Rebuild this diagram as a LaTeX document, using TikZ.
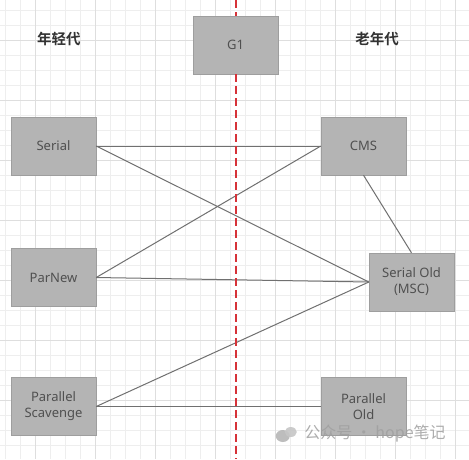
\documentclass[tikz,border=0pt]{standalone}
\usepackage{fontspec}
\setmainfont{Noto Sans}
\newfontfamily\cjk{Noto Sans CJK SC}[BoldFont={Noto Sans CJK SC Bold}]
\usetikzlibrary{positioning}

\definecolor{boxgray}{RGB}{180,180,180}
\definecolor{boxtext}{RGB}{80,80,80}
\definecolor{linkgray}{RGB}{112,112,112}
\definecolor{gridminor}{RGB}{238,238,238}
\definecolor{gridmajor}{RGB}{222,222,222}
\definecolor{divred}{RGB}{214,50,56}

\begin{document}
\begin{tikzpicture}[x=1pt,y=-1pt,
  gc/.style={draw=boxgray!88!black,fill=boxgray,minimum width=85pt,minimum height=58pt,
    inner sep=0pt,align=center,text=boxtext,font=\fontsize{13}{16}\selectfont},
  gen/.style={text=black!80,font=\cjk\bfseries\fontsize{14.5}{16}\selectfont},
  link/.style={draw=linkgray,line width=1pt},
  divider/.style={draw=divred,line width=1.5pt,dash pattern=on 8pt off 4pt}]
  % 背景网格
  \useasboundingbox (0,0) rectangle (469,459);
  \fill[white] (0,0) rectangle (469,459);
  \foreach \x in {5,20,...,465} \draw[gridminor,line width=0.6pt] (\x,0) -- (\x,459);
  \foreach \y in {10,25,...,455} \draw[gridminor,line width=0.6pt] (0,\y) -- (469,\y);
  \foreach \x in {35,95,...,455} \draw[gridmajor,line width=0.8pt] (\x,0) -- (\x,459);
  \foreach \y in {40,100,...,400} \draw[gridmajor,line width=0.8pt] (0,\y) -- (469,\y);
  % 标题
  \node[gen] (young) at (59,39) {年轻代};
  \node[gen] (old) at (377,39) {老年代};
  % 收集器
  \node[gc] (G1) at (235.5,45) {G1};
  \node[gc] (Serial) at (53.5,146) {Serial};
  \node[gc] (CMS) at (363.5,146) {CMS};
  \node[gc] (ParNew) at (53.5,277.5) {ParNew};
  \node[gc] (SerialOld) at (411.5,282) {Serial Old\\(MSC)};
  \node[gc] (PS) at (53.5,406.5) {Parallel\\Scavenge};
  \node[gc] (PO) at (363.5,406.5) {Parallel\\Old};
  % 组合连线
  \draw[link] (Serial.east) -- (CMS.west);
  \draw[link] (Serial.east) -- (SerialOld.west);
  \draw[link] (ParNew.east) -- (CMS.west);
  \draw[link] (ParNew.east) -- (SerialOld.west);
  \draw[link] (CMS.south) -- (SerialOld.north);
  \draw[link] (PS.east) -- (SerialOld.west);
  \draw[link] (PS.east) -- (PO.west);
  % 分界线
  \coordinate (divtop) at (236,0);
  \coordinate (divbot) at (236,459);
  \draw[divider] (divtop) -- (G1.north -| divtop);
  \draw[divider] (G1.south -| divtop) -- (divbot);
  % 水印
  \node[text=gray!75,opacity=0.85,font=\cjk\fontsize{16}{18}\selectfont] (wm) at (375,434) {公众号 · hope笔记};
  \fill[gray!60,opacity=0.85] ([xshift=-18pt,yshift=-2pt]wm.west) ellipse (7pt and 6pt);
  \fill[gray!45,opacity=0.9] ([xshift=-10pt,yshift=2pt]wm.west) ellipse (6pt and 5pt);
\end{tikzpicture}
\end{document}
